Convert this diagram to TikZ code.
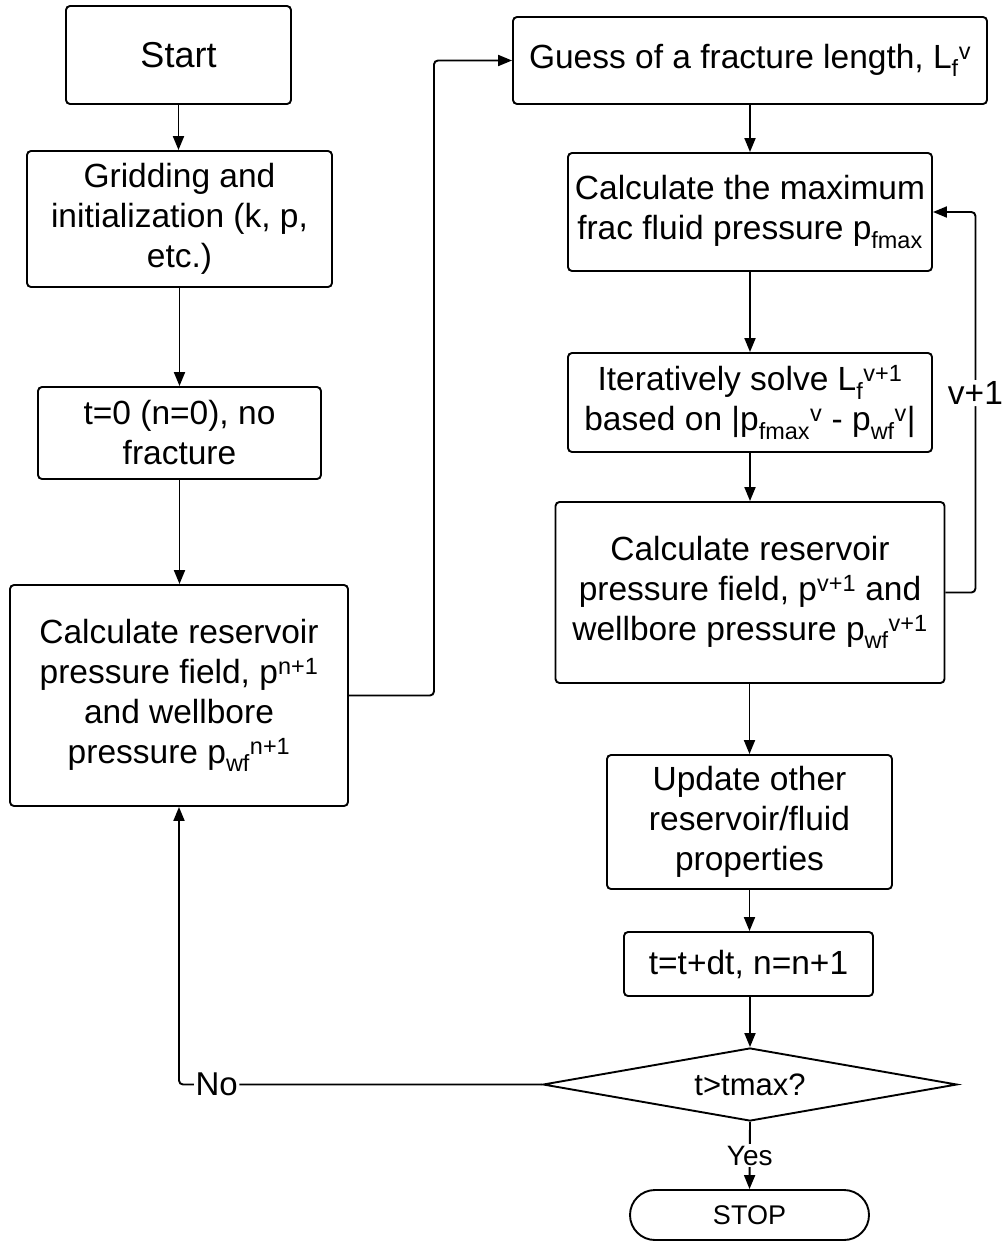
\documentclass[tikz,border=0pt]{standalone}
\usepackage{fontspec}
\setmainfont{Liberation Sans}
\usetikzlibrary{arrows.meta,shapes.geometric,shapes.misc}

\begin{document}
\begin{tikzpicture}[x=1pt,y=-1pt,
  box/.style={draw, line width=1.9pt, rounded corners=4pt, align=center,
    inner sep=0pt, font=\fontsize{33.5}{40}\selectfont},
  conn/.style={line width=1.9pt, rounded corners=4pt,
    -{Triangle[length=14pt,width=11pt]}},
  lbl/.style={fill=white, inner sep=1.5pt}
]
\useasboundingbox (0,0) rectangle (1006,1245);

% left column
\node[box, minimum width=225pt, minimum height=98pt,
  font=\fontsize{36}{42}\selectfont] (start) at (178.5,55) {Start};
\node[box, minimum width=305pt, minimum height=136pt] (grid) at (179.5,219)
  {Gridding and\\initialization (k, p,\\etc.)};
\node[box, minimum width=283pt, minimum height=92pt] (tzero) at (179.5,433)
  {t=0 (n=0), no\\fracture};
\node[box, minimum width=338pt, minimum height=221pt] (resL) at (179,695.5)
  {Calculate reservoir\\pressure field, p\textsuperscript{n+1}\\and wellbore\\pressure p\textsubscript{wf}\textsuperscript{n+1}};

% right column
\node[box, minimum width=474pt, minimum height=87pt] (guess) at (750,60.5)
  {Guess of a fracture length, L\textsubscript{f}\textsuperscript{v}};
\node[box, minimum width=364pt, minimum height=118pt] (pmax) at (750,212)
  {Calculate the maximum\\frac fluid pressure p\textsubscript{fmax}};
\node[box, minimum width=364pt, minimum height=99pt] (iter) at (750,402.5)
  {Iteratively solve L\textsubscript{f}\textsuperscript{v+1}\\based on |p\textsubscript{fmax}\textsuperscript{v} - p\textsubscript{wf}\textsuperscript{v}|};
\node[box, minimum width=389pt, minimum height=181pt] (resR) at (750,592.5)
  {Calculate reservoir\\pressure field, p\textsuperscript{v+1} and\\wellbore pressure p\textsubscript{wf}\textsuperscript{v+1}};
\node[box, minimum width=285pt, minimum height=134pt] (upd) at (749.5,822)
  {Update other\\reservoir/fluid\\properties};
\node[box, minimum width=249pt, minimum height=64pt] (tnext) at (748.5,964)
  {t=t+dt, n=n+1};
\node[diamond, draw, line width=1.9pt, shape aspect=5.6, inner sep=0pt,
  minimum width=414pt, minimum height=73pt,
  font=\fontsize{31}{36}\selectfont] (check) at (750,1084.5) {t>tmax?};
\node[rounded rectangle, draw, line width=1.9pt, inner sep=0pt,
  minimum width=239pt, minimum height=50pt,
  font=\fontsize{27}{32}\selectfont] (stop) at (749.5,1215) {STOP};

% connectors
\draw[conn] (start.south) -- (start.south |- grid.north);
\draw[conn] (grid.south) -- (grid.south |- tzero.north);
\draw[conn] (tzero.south) -- (tzero.south |- resL.north);
\draw[conn] (resL.east) -- ++(85,0) |- (guess.west);
\draw[conn] (guess.south) -- (guess.south |- pmax.north);
\draw[conn] (pmax.south) -- (pmax.south |- iter.north);
\draw[conn] (iter.south) -- (iter.south |- resR.north);
\draw[conn] (resR.south -| upd.north) -- (upd.north);
\draw[conn] (upd.south) -- (upd.south |- tnext.north);
\draw[conn] (tnext.south -| check.north) -- (check.north);
\draw[conn] (resR.east) -- ++(30,0) |-
  node[lbl, pos=0.262, font=\fontsize{33.5}{40}\selectfont] {v+1} (pmax.east);
\draw[conn] (check.west) -|
  node[lbl, pos=0.448, font=\fontsize{33}{40}\selectfont] {No} (resL.south);
\draw[conn] (check.south) --
  node[lbl, font=\fontsize{28}{34}\selectfont] {Yes} (stop.north);
\end{tikzpicture}
\end{document}
